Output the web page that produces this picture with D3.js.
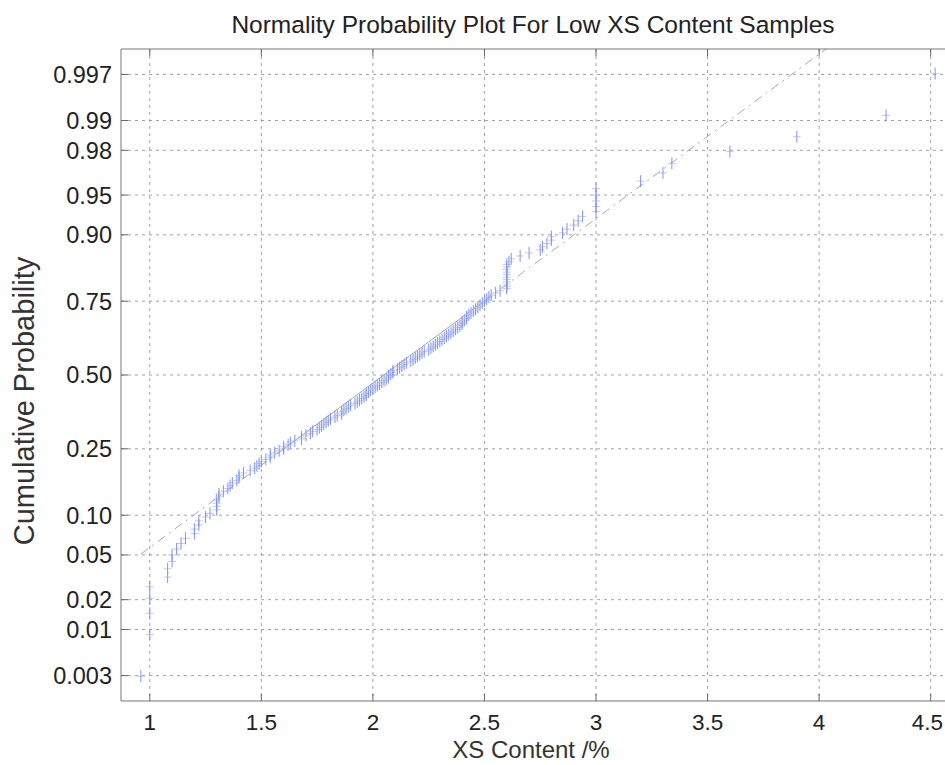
<!DOCTYPE html>
<html>
<head>
<meta charset="utf-8">
<script src="https://cdn.jsdelivr.net/npm/d3@7"></script>
<style>
  body { margin: 0; background: #fff; }
  svg { display: block; font-family: "Liberation Sans", Arial, sans-serif; }
</style>
</head>
<body>
<svg id="chart"></svg>
<script>
// Normality probability plot, low XS content samples (sorted)
const xsContent = [
  0.96,
  1.00, 1.00, 1.00, 1.00,
  1.08, 1.08, 1.10, 1.10, 1.12, 1.14, 1.16, 1.20, 1.20, 1.22, 1.22, 1.25, 1.27,
  1.30, 1.30, 1.30, 1.30, 1.31, 1.31, 1.33, 1.35, 1.36, 1.37, 1.39, 1.40,
  1.40, 1.42, 1.45, 1.47, 1.48, 1.49, 1.50, 1.52, 1.54, 1.54,
  1.56, 1.58, 1.60, 1.60, 1.62, 1.63, 1.65, 1.68, 1.68, 1.70,
  1.72, 1.73, 1.75, 1.76, 1.77, 1.78, 1.79, 1.80, 1.81, 1.83,
  1.84, 1.86, 1.86, 1.87, 1.88, 1.89, 1.90, 1.92, 1.93, 1.94,
  1.95, 1.96, 1.97, 1.97, 1.98, 1.99, 2.00, 2.01, 2.02, 2.03,
  2.04, 2.05, 2.06, 2.07, 2.07, 2.08, 2.09, 2.09, 2.11, 2.12,
  2.13, 2.14, 2.15, 2.17, 2.18, 2.19, 2.20, 2.21, 2.22, 2.23,
  2.25, 2.26, 2.27, 2.28, 2.29, 2.30, 2.31, 2.32, 2.33, 2.34,
  2.35, 2.36, 2.37, 2.38, 2.39, 2.40, 2.40, 2.41, 2.42, 2.42,
  2.43, 2.44, 2.45, 2.46, 2.47, 2.48, 2.49, 2.50, 2.51, 2.52,
  2.53, 2.55, 2.57, 2.60, 2.60, 2.60, 2.60, 2.60, 2.60, 2.60,
  2.60, 2.60, 2.60, 2.60, 2.61, 2.62, 2.66, 2.70, 2.75, 2.76,
  2.78, 2.80, 2.80, 2.85, 2.87, 2.90, 2.92, 2.94, 3.00, 3.00,
  3.00, 3.00, 3.00, 3.20, 3.30, 3.34, 3.60, 3.90, 4.30, 4.52
];

const probTicks = [0.003, 0.01, 0.02, 0.05, 0.10, 0.25, 0.50, 0.75, 0.90, 0.95, 0.98, 0.99, 0.997];
const probLabels = ["0.003", "0.01", "0.02", "0.05", "0.10", "0.25", "0.50", "0.75", "0.90", "0.95", "0.98", "0.99", "0.997"];
const xTicks = [1, 1.5, 2, 2.5, 3, 3.5, 4, 4.5];
const xTickLabels = ["1", "1.5", "2", "2.5", "3", "3.5", "4", "4.5"];

const W = 945, H = 765;
const margin = { top: 49, right: -10, bottom: 64, left: 121 },
    width = W - margin.left - margin.right,
    height = H - margin.top - margin.bottom;

// inverse normal cdf (Acklam)
function probit(p) {
    const a = [-3.969683028665376e+01, 2.209460984245205e+02, -2.759285104469687e+02, 1.383577518672690e+02, -3.066479806614716e+01, 2.506628277459239e+00];
    const b = [-5.447609879822406e+01, 1.615858368580409e+02, -1.556989798598866e+02, 6.680131188771972e+01, -1.328068155288572e+01];
    const c = [-7.784894002430293e-03, -3.223964580411365e-01, -2.400758277161838e+00, -2.549732539343734e+00, 4.374664141464968e+00, 2.938163982698783e+00];
    const d = [7.784695709041462e-03, 3.224671290700398e-01, 2.445134137142996e+00, 3.754408661907416e+00];
    const pl = 0.02425;
    let q, r;
    if (p < pl) {
        q = Math.sqrt(-2 * Math.log(p));
        return (((((c[0]*q+c[1])*q+c[2])*q+c[3])*q+c[4])*q+c[5]) / ((((d[0]*q+d[1])*q+d[2])*q+d[3])*q+1);
    } else if (p <= 1 - pl) {
        q = p - 0.5; r = q * q;
        return (((((a[0]*r+a[1])*r+a[2])*r+a[3])*r+a[4])*r+a[5])*q / (((((b[0]*r+b[1])*r+b[2])*r+b[3])*r+b[4])*r+1);
    } else {
        q = Math.sqrt(-2 * Math.log(1 - p));
        return -(((((c[0]*q+c[1])*q+c[2])*q+c[3])*q+c[4])*q+c[5]) / ((((d[0]*q+d[1])*q+d[2])*q+d[3])*q+1);
    }
}

const n = xsContent.length;
const points = xsContent.map((v, i) => ({ v: v, z: probit((i + 0.5) / n) }));

const xmin = d3.min(xsContent), xmax = d3.max(xsContent);
const pad = 0.025 * (xmax - xmin);

const x = d3.scaleLinear().domain([xmin - pad, xmax + pad]).range([0, width]);
const y = d3.scaleLinear().domain([-2.98, 2.98]).range([height, 0]);

const svg = d3.select("#chart").attr("width", W).attr("height", H);
const g = svg.append("g").attr("transform", `translate(${margin.left},${margin.top})`);

svg.append("defs").append("clipPath").attr("id", "plotClip")
    .append("rect").attr("width", width).attr("height", height);

// title
svg.append("text")
    .attr("x", 533)
    .attr("y", 33)
    .attr("text-anchor", "middle")
    .style("font-size", "24.5px")
    .style("fill", "#222")
    .text("Normality Probability Plot For Low XS Content Samples");

// grid
g.selectAll(".vgrid").data(xTicks).enter().append("line")
    .attr("x1", d => x(d)).attr("x2", d => x(d))
    .attr("y1", 0).attr("y2", height)
    .attr("stroke", "#8a8a8a").attr("stroke-width", 0.8)
    .attr("stroke-dasharray", "3,4");

g.selectAll(".hgrid").data(probTicks).enter().append("line")
    .attr("x1", 0).attr("x2", width)
    .attr("y1", d => y(probit(d))).attr("y2", d => y(probit(d)))
    .attr("stroke", "#8a8a8a").attr("stroke-width", 0.8)
    .attr("stroke-dasharray", "3,4");

// reference line through the quartiles
const q1 = d3.quantile(xsContent, 0.25), q3 = d3.quantile(xsContent, 0.75);
const zq1 = probit(0.25), zq3 = probit(0.75);
const slope = (zq3 - zq1) / (q3 - q1);
const lineZ = v => zq1 + (v - q1) * slope;

const plot = g.append("g").attr("clip-path", "url(#plotClip)");

plot.append("line")
    .attr("x1", x(q1)).attr("y1", y(lineZ(q1)))
    .attr("x2", x(q3)).attr("y2", y(lineZ(q3)))
    .attr("stroke", "#a4a4b0").attr("stroke-width", 1);

[[xmin, q1], [q3, xmax]].forEach(seg => {
    plot.append("line")
        .attr("x1", x(seg[0])).attr("y1", y(lineZ(seg[0])))
        .attr("x2", x(seg[1])).attr("y2", y(lineZ(seg[1])))
        .attr("stroke", "#a8a8b4").attr("stroke-width", 1)
        .attr("stroke-dasharray", "9,5,2,5");
});

// data markers
const marks = plot.selectAll(".mark").data(points).enter().append("g")
    .attr("class", "mark")
    .attr("transform", d => `translate(${x(d.v)},${y(d.z)})`);

marks.append("line")
    .attr("x1", -4).attr("x2", 4).attr("y1", 0).attr("y2", 0)
    .attr("stroke", "#b3bef2").attr("stroke-width", 0.8);

marks.append("line")
    .attr("x1", 0).attr("x2", 0).attr("y1", -6).attr("y2", 6)
    .attr("stroke", "#8294ea").attr("stroke-width", 1);

// axes box
g.append("line").attr("x1", 0).attr("x2", width).attr("y1", 0).attr("y2", 0)
    .attr("stroke", "#777").attr("stroke-width", 1);
g.append("line").attr("x1", 0).attr("x2", width).attr("y1", height).attr("y2", height)
    .attr("stroke", "#777").attr("stroke-width", 1);
g.append("line").attr("x1", 0).attr("x2", 0).attr("y1", 0).attr("y2", height)
    .attr("stroke", "#777").attr("stroke-width", 1);

// ticks (inside) and labels
g.selectAll(".xtick").data(xTicks).enter().append("line")
    .attr("x1", d => x(d)).attr("x2", d => x(d))
    .attr("y1", height).attr("y2", height - 7)
    .attr("stroke", "#666");
g.selectAll(".xtickTop").data(xTicks).enter().append("line")
    .attr("x1", d => x(d)).attr("x2", d => x(d))
    .attr("y1", 0).attr("y2", 7)
    .attr("stroke", "#666");

g.selectAll(".xlabel").data(xTicks).enter().append("text")
    .attr("x", d => x(d))
    .attr("y", height + 29)
    .attr("text-anchor", "middle")
    .style("font-size", "22.5px")
    .style("fill", "#222")
    .text((d, i) => xTickLabels[i])
    .each(function (d) {
        // keep the last label inside the page edge
        const half = this.getComputedTextLength() / 2;
        const over = margin.left + x(d) + half - (W - 2);
        if (over > 0) d3.select(this).attr("x", x(d) - over);
    });

g.selectAll(".ytick").data(probTicks).enter().append("line")
    .attr("x1", 0).attr("x2", 7)
    .attr("y1", d => y(probit(d))).attr("y2", d => y(probit(d)))
    .attr("stroke", "#666");

g.selectAll(".ylabel").data(probTicks).enter().append("text")
    .attr("x", -9)
    .attr("y", d => y(probit(d)))
    .attr("dy", "0.36em")
    .attr("text-anchor", "end")
    .style("font-size", "23.5px")
    .style("fill", "#222")
    .text((d, i) => probLabels[i]);

// axis titles
svg.append("text")
    .attr("x", 531)
    .attr("y", 758)
    .attr("text-anchor", "middle")
    .style("font-size", "24px")
    .style("fill", "#333")
    .text("XS Content /%");

svg.append("text")
    .attr("transform", "translate(34,401) rotate(-90)")
    .attr("text-anchor", "middle")
    .style("font-size", "29px")
    .style("fill", "#333")
    .text("Cumulative Probability");
</script>
</body>
</html>
